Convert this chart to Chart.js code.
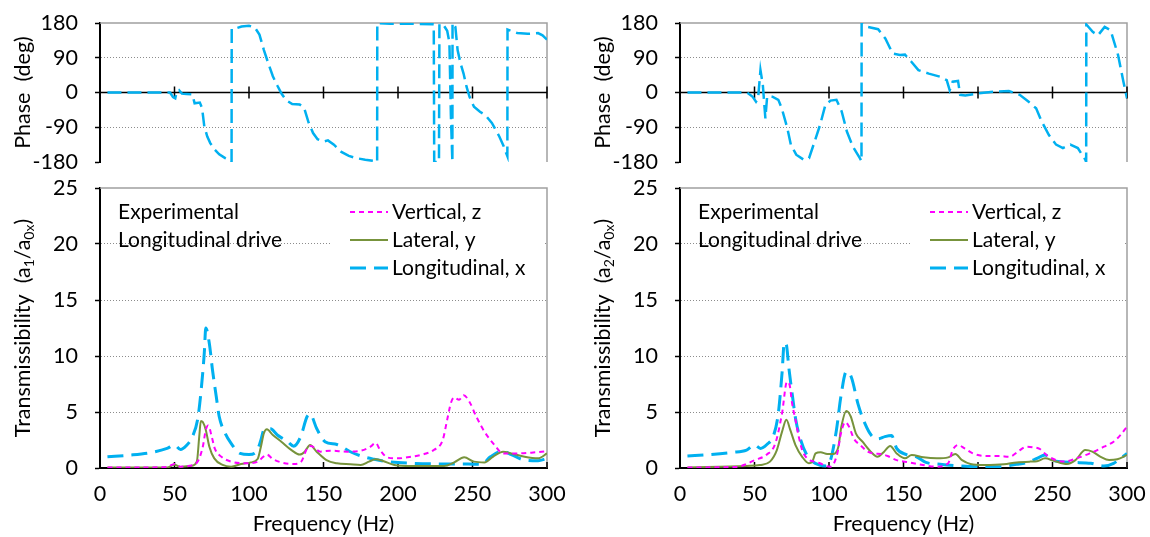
<!DOCTYPE html>
<html>
<head>
<meta charset="utf-8">
<script src="https://cdn.jsdelivr.net/npm/chart.js@4.4.1/dist/chart.umd.min.js"></script>
<style>
  html, body { margin: 0; padding: 0; background: #fff; }
  #wrap { position: relative; width: 1150px; height: 537px; overflow: hidden; }
  canvas { position: absolute; }
</style>
</head>
<body>
<div id="wrap">
  <canvas id="phaseL" width="570" height="180" style="left:0;top:0"></canvas>
  <canvas id="phaseR" width="570" height="180" style="left:580px;top:0"></canvas>
  <canvas id="transL" width="570" height="367" style="left:0;top:170px"></canvas>
  <canvas id="transR" width="570" height="367" style="left:580px;top:170px"></canvas>
</div>
<script>
// ---- data (frequency Hz, value) ----
var freqTicks = [0, 50, 100, 150, 200, 250, 300];
var phaseTicks = [-180, -90, 0, 90, 180];
var transTicks = [0, 5, 10, 15, 20, 25];
var seriesNames = ['Vertical, z', 'Lateral, y', 'Longitudinal, x'];

// phase of longitudinal response (deg)
var phaseLeft = [[5,0],[20,0],[40,0],[47,0],[49,-12],[50.5,-15],[51.5,2],[53,6],[55,-3],[58,-4],[62,-5],[63.5,-28],[67,-26],[68.5,-40],
  [70,-88],[72,-114],[74,-131],[77,-148],[80,-160],[84,-170],[88,-177],[88.3,-180],[88.4,165],[91,166],[95,171],[100,173],[104,168],
  [107,150],[110,110],[113,75],[116,42],[119,18],[122,-4],[125,-20],[129,-30],[134,-31],[137,-40],[140,-78],[143,-105],[146,-121],
  [150,-127],[153,-124],[157,-135],[162,-154],[167,-164],[172,-170],[178,-174],[185,-178],[186,-180],[186.1,180],[195,178],[210,178],
  [223,177],[224,176],[224.3,-180],[227.5,-180],[227.8,178],[231,172],[233,160],[234.5,130],[235.5,-60],[236.5,-180],[236.6,180],
  [238.5,170],[240,110],[242,75],[244,49],[246,15],[248,-11],[251,-37],[255,-50],[258.5,-58],[263,-79],[268,-114],[271,-140],
  [273,-161],[273.4,-165],[273.5,163],[277,158],[280,154],[287,152],[294,154],[297,148],[300,137]];
var phaseRight = [[5,0],[20,0],[45,0],[48.8,-11],[51,-24],[52.4,-15],[54,58],[55.6,19],[57.3,-67],[58.5,-10],[62,-11],[66,-19],
  [68.3,-41],[72,-92],[74.4,-135],[78,-161],[83,-174],[86.6,-170],[90,-131],[94,-84],[97.6,-32],[101,-21],[105,-19],[108.5,-49],
  [112,-101],[116,-140],[120.7,-170],[121.8,-178],[121.9,178],[125.6,170],[133,164],[137.8,140],[142.7,101],[147.6,97],[151,98],
  [155,81],[160,58],[167,49],[174.4,41],[179,32],[181,6],[183,28],[186.6,30],[188,-6],[191.5,-8],[200,-2],[211,2],[220.7,4],
  [228,-6],[234,-24],[239,-41],[242.7,-75],[247.6,-110],[252.4,-135],[257,-144],[262,-135],[267,-144],[272,-174],[272.6,-180],
  [272.7,176],[277,157],[280.5,148],[285,170],[289,161],[294,97],[297.6,28],[300,-15]];

// transmissibility a1/a0x
var vertLeft = [[5,0.05],[30,0.05],[45,0.1],[50,0.35],[54,0.12],[60,0.2],[65.5,0.57],[69,1.9],[71,3.4],[72.6,3.8],[75,2.8],[77,1.75],
  [81.5,1.0],[88,0.57],[99,0.42],[106,0.57],[109.6,1.0],[112,1.2],[116,0.8],[121.7,0.5],[130,0.36],[135,0.57],[139,1.75],[141.5,1.96],
  [148,1.46],[154.6,1.55],[166,1.46],[175,1.55],[181.5,1.9],[185,2.25],[188,1.6],[193,0.94],[199.7,0.86],[208.7,1.0],[217.6,1.25],
  [224,1.6],[230,2.5],[233,4.3],[235.5,5.8],[237.7,6.3],[241,6.1],[244,6.5],[248,5.9],[252.5,4.6],[258,3.25],[264.8,2.05],[270.5,1.3],
  [280.5,1.3],[289.5,1.37],[300,1.5]];
var latLeft = [[5,0.05],[45,0.05],[50,0.3],[54,0.1],[61.5,0.2],[65,0.57],[66.6,2.8],[67.7,4.2],[69,4.1],[71,3.4],[73.4,1.9],[76.7,0.86],
  [82.3,0.27],[88,0.12],[94.6,0.36],[101.3,0.5],[105.8,0.8],[108,1.9],[110,3.1],[112,3.45],[116,2.95],[121.7,2.35],[128.5,1.6],
  [134,1.2],[137.4,1.46],[141,2.05],[145.4,1.46],[152,0.71],[159,0.42],[168,0.33],[175,0.27],[180.5,0.57],[185,0.78],[189.5,0.65],
  [197.5,0.27],[208.7,0.18],[231,0.18],[237.7,0.5],[244.4,0.95],[251,0.57],[258,0.5],[263.7,1.0],[270.5,1.46],[276,1.3],[285,1.0],
  [294,0.86],[300,1.3]];
var longLeft = [[5,1.0],[20,1.15],[35,1.4],[45,1.75],[50,2.05],[54,1.65],[58,2.0],[62,2.8],[65.5,4.3],[67.7,6.7],[70,10.3],[71,12.5],
  [73.4,11.1],[75.5,8.75],[78,6.4],[80,4.6],[84,3.1],[88,2.2],[94,1.3],[100,1.2],[105,1.45],[108,2.5],[110,3.4],[114.5,3.5],[119,2.95],
  [126,2.35],[130,1.95],[134.7,2.8],[139,4.6],[141,4.8],[145.5,3.5],[151,2.35],[159,2.1],[168,1.45],[177,1.0],[184,0.78],[193,0.57],
  [209,0.42],[231,0.36],[247,0.36],[256,0.33],[262,1.0],[270,1.52],[276,1.2],[285,0.71],[294,0.65],[300,0.86]];

// transmissibility a2/a0x
var vertRight = [[5,0.05],[38,0.1],[44.7,0.36],[50,0.7],[58.3,1.2],[64,2.2],[68.5,4.9],[71.8,7.7],[73.6,7.4],[75.2,5.8],[77.5,4.3],
  [79.7,2.8],[82,1.6],[85.3,0.86],[89.8,0.57],[94,0.42],[98,0.18],[101,0.12],[105.6,1.3],[108,3.1],[111,4.1],[113.4,3.7],[116.8,2.6],
  [121,2.05],[126,1.46],[130.4,1.3],[135,1.25],[139.4,1.07],[145.4,0.7],[154,0.5],[163,0.27],[172,0.12],[180,0.42],[183,1.6],
  [186.6,2.05],[191,1.75],[196.6,1.3],[205.6,1.07],[214.5,1.07],[221,1.0],[226.8,1.46],[232.4,1.9],[237,1.85],[241.4,1.7],[246,1.16],
  [252.5,0.7],[258,0.57],[266,0.86],[275,1.3],[284.5,1.9],[291,2.35],[295.7,2.95],[300,3.7]];
var latRight = [[5,0.05],[44.7,0.18],[53.7,0.27],[60.4,0.57],[65,1.6],[68.5,3.25],[71.4,4.3],[74,3.4],[77.5,2.05],[82,1.0],[86.5,0.42],
  [88.8,0.57],[91,1.3],[94.4,1.4],[98.8,1.25],[103,1.25],[106.3,1.9],[108.3,3.7],[111.7,5.1],[114.6,4.6],[118,3.1],[122.5,2.35],
  [128,1.46],[132.5,1.0],[137,1.46],[141,1.96],[145.4,1.3],[151,0.86],[155.5,1.16],[163.4,0.95],[172.4,0.86],[180,0.95],[184.8,1.25],
  [189.3,0.7],[195,0.36],[204,0.27],[217.4,0.33],[226,0.5],[235,0.57],[239.6,0.6],[245,0.86],[250.8,0.65],[259.7,0.36],[265.4,0.7],
  [272,1.6],[276.7,1.46],[282.3,1.0],[288,0.71],[293.5,0.78],[300,1.16]];
var longRight = [[5,1.07],[20,1.2],[35,1.4],[44.7,1.6],[50,2.05],[54,1.75],[58.3,2.1],[62.8,2.9],[66,4.9],[68.5,8.5],[70,11.2],
  [71.4,11.0],[73,9.0],[75.5,6.4],[77.7,4.3],[81,2.5],[84.6,1.3],[89,0.57],[93.5,0.27],[98,0.18],[101,0.71],[105,3.4],[108,6.4],
  [111.6,8.6],[115,8.1],[119.5,5.7],[124,4.0],[128.5,2.9],[133,2.6],[137.5,2.8],[142,2.9],[145.4,1.75],[152,1.2],[158.7,1.0],[165,0.5],
  [174.5,0.33],[188,0.18],[199,0.12],[215,0.12],[226,0.33],[233,0.5],[239.6,0.86],[245,1.16],[250,0.7],[255.5,0.57],[263.4,0.5],
  [275.8,0.42],[284.5,0.18],[291,0.42],[295.7,0.86],[300,1.3]];

var FONT = 'Lato, "Open Sans", sans-serif';
var FS = 21.5;
var CYAN = '#00b0f0', MAGENTA = '#ff00ff', OLIVE = '#77933c';
var GRID = '#8c8c8c', FRAME = '#a0a0a0';

function pts(pairs) {
    return pairs.map(function (p) { return { x: p[0], y: p[1] }; });
}

// frame, zero line and tick marks that Chart.js does not draw by itself
var decor = {
    id: 'decor',
    beforeDatasetsDraw: function (chart, args, o) {
        var ctx = chart.ctx, a = chart.chartArea, x = chart.scales.x, y = chart.scales.y;
        ctx.save();
        ctx.strokeStyle = FRAME;
        ctx.lineWidth = 1.5;
        ctx.beginPath();
        ctx.moveTo(a.left, a.top);
        ctx.lineTo(a.right, a.top);
        ctx.lineTo(a.right, a.bottom);
        ctx.stroke();

        ctx.strokeStyle = '#000';
        ctx.lineWidth = 1.5;
        ctx.beginPath();
        if (o.phase) {
            var y0 = y.getPixelForValue(0);
            ctx.moveTo(a.left, y0);
            ctx.lineTo(a.right, y0);
            freqTicks.forEach(function (v) {
                if (v === 0) return;
                var px = x.getPixelForValue(v);
                ctx.moveTo(px, y0 - 6);
                ctx.lineTo(px, y0 + 6);
            });
        } else {
            freqTicks.forEach(function (v) {
                if (v === 0) return;
                var px = x.getPixelForValue(v);
                ctx.moveTo(px, a.bottom);
                ctx.lineTo(px, a.bottom - 6);
            });
        }
        ctx.stroke();
        ctx.restore();
    }
};

// rotated y title with subscripts
var ytitle = {
    id: 'ytitle',
    afterDraw: function (chart, args, o) {
        var ctx = chart.ctx, a = chart.chartArea;
        ctx.save();
        ctx.translate(o.x, (a.top + a.bottom) / 2);
        ctx.rotate(-Math.PI / 2);
        ctx.fillStyle = '#000';
        ctx.textBaseline = 'middle';
        ctx.textAlign = 'left';
        var total = 0;
        o.parts.forEach(function (p) {
            ctx.font = (p[1] ? 14 : FS) + 'px ' + FONT;
            total += ctx.measureText(p[0]).width;
        });
        var cx = -total / 2;
        o.parts.forEach(function (p) {
            ctx.font = (p[1] ? 14 : FS) + 'px ' + FONT;
            ctx.fillText(p[0], cx, p[1] ? 6 : 0);
            cx += ctx.measureText(p[0]).width;
        });
        ctx.restore();
    }
};

// legend box and notes inside the plot
var innerLegend = {
    id: 'innerLegend',
    afterDatasetsDraw: function (chart, args, o) {
        var ctx = chart.ctx;
        ctx.save();
        ctx.fillStyle = '#fff';
        ctx.fillRect(o.box[0], o.box[1], o.box[2], o.box[3]);
        ctx.font = '21px ' + FONT;
        ctx.textBaseline = 'middle';
        ctx.fillStyle = '#000';
        o.notes.forEach(function (n, i) {
            ctx.fillText(n, o.noteX, o.rows[i]);
        });
        chart.data.datasets.forEach(function (ds, i) {
            var yy = o.rows[i];
            ctx.save();
            ctx.strokeStyle = ds.borderColor;
            ctx.lineWidth = ds.borderWidth;
            ctx.setLineDash(ds.borderDash || []);
            ctx.beginPath();
            ctx.moveTo(o.lineX[0], yy);
            ctx.lineTo(o.lineX[1], yy);
            ctx.stroke();
            ctx.restore();
            ctx.fillText(ds.label, o.textX, yy);
        });
        ctx.restore();
    }
};

function yScale(min, max, tickList) {
    return {
        type: 'linear', min: min, max: max,
        afterBuildTicks: function (s) { s.ticks = tickList.map(function (v) { return { value: v }; }); },
        afterFit: function (s) { s.width = 100; s.paddingTop = 0; s.paddingBottom = 0; },
        grid: {
            color: function (c) {
                var v = c.tick ? c.tick.value : null;
                return (v === min || v === max || v === 0) ? 'rgba(0,0,0,0)' : GRID;
            },
            lineWidth: 1,
            drawTicks: true,
            tickLength: 5,
            tickColor: '#000',
            tickWidth: 1.5
        },
        border: { display: true, color: '#000', width: 2, dash: [1, 2] },
        ticks: { color: '#000', padding: 17, font: { family: FONT, size: FS } }
    };
}

function phaseChart(id, data) {
    return new Chart(document.getElementById(id), {
        type: 'line',
        data: {
            datasets: [{
                label: seriesNames[2], data: pts(data), borderColor: CYAN, borderWidth: 2.5,
                borderDash: [14, 6], pointRadius: 0, tension: 0, fill: false
            }]
        },
        options: {
            responsive: false, animation: false, events: [],
            layout: { padding: { top: 23, right: 23, bottom: 18, left: 0 } },
            plugins: {
                legend: { display: false }, tooltip: { enabled: false },
                decor: { phase: true },
                ytitle: { x: 23, parts: [['Phase  (deg)', false]] }
            },
            scales: {
                x: { type: 'linear', min: 0, max: 300, display: false },
                y: yScale(-180, 180, phaseTicks)
            }
        },
        plugins: [decor, ytitle]
    });
}

function transChart(id, vert, lat, lon, sub) {
    return new Chart(document.getElementById(id), {
        type: 'line',
        data: {
            datasets: [
                { label: seriesNames[0], data: pts(vert), borderColor: MAGENTA, borderWidth: 2, borderDash: [5, 4],
                  pointRadius: 0, cubicInterpolationMode: 'monotone', fill: false },
                { label: seriesNames[1], data: pts(lat), borderColor: OLIVE, borderWidth: 2,
                  pointRadius: 0, cubicInterpolationMode: 'monotone', fill: false },
                { label: seriesNames[2], data: pts(lon), borderColor: CYAN, borderWidth: 3, borderDash: [16, 8],
                  pointRadius: 0, cubicInterpolationMode: 'monotone', fill: false }
            ]
        },
        options: {
            responsive: false, animation: false, events: [],
            layout: { padding: { top: 18, right: 23, bottom: 0, left: 0 } },
            plugins: {
                legend: { display: false }, tooltip: { enabled: false },
                decor: { phase: false },
                ytitle: { x: 23, parts: [['Transmissibility  (a', false], [sub, true], ['/a', false], ['0x', true], [')', false]] },
                innerLegend: {
                    box: [332, 26, 213, 88], rows: [42, 70, 98],
                    notes: ['Experimental', 'Longitudinal drive'], noteX: 118,
                    lineX: [350, 388], textX: 392
                }
            },
            scales: {
                x: {
                    type: 'linear', min: 0, max: 300,
                    afterBuildTicks: function (s) { s.ticks = freqTicks.map(function (v) { return { value: v }; }); },
                    afterFit: function (s) { s.height = 69; s.paddingLeft = 0; s.paddingRight = 0; },
                    grid: { display: false, drawTicks: false },
                    border: { display: true, color: '#000', width: 2 },
                    ticks: { color: '#000', padding: 13, maxRotation: 0, font: { family: FONT, size: FS } },
                    title: { display: true, text: 'Frequency (Hz)', color: '#000', padding: { top: 0, bottom: 0 },
                             font: { family: FONT, size: FS } }
                },
                y: yScale(0, 25, transTicks)
            }
        },
        plugins: [decor, ytitle, innerLegend]
    });
}

phaseChart('phaseL', phaseLeft);
phaseChart('phaseR', phaseRight);
transChart('transL', vertLeft, latLeft, longLeft, '1');
transChart('transR', vertRight, latRight, longRight, '2');
</script>
</body>
</html>
